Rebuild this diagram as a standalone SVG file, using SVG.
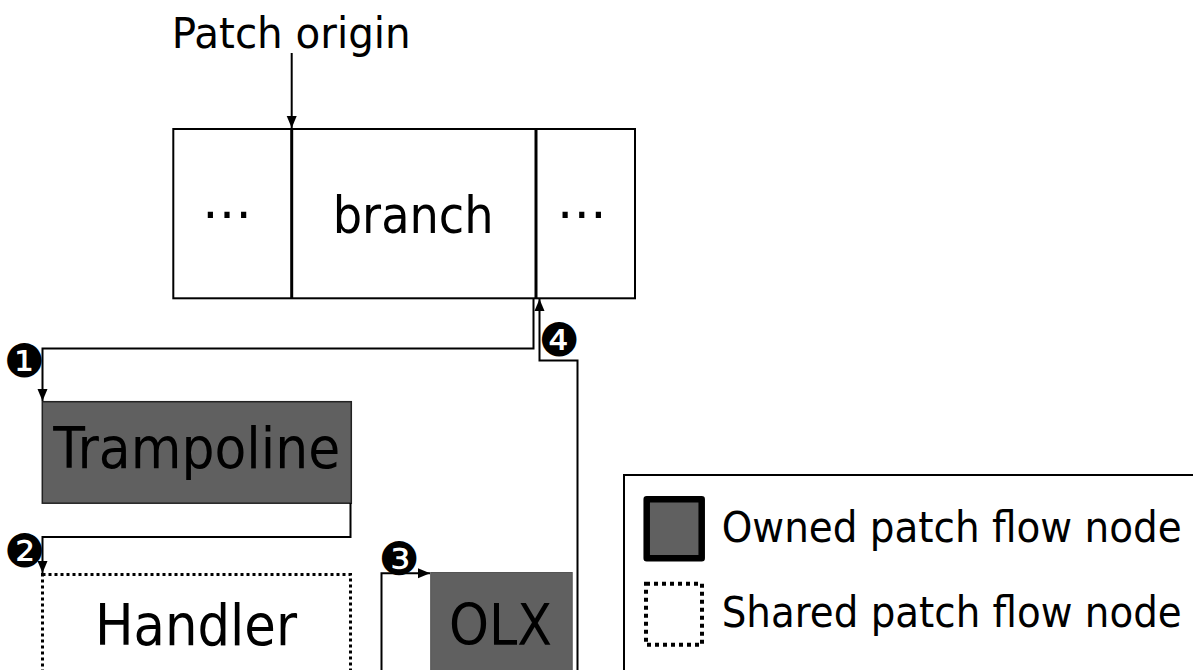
<svg xmlns="http://www.w3.org/2000/svg" width="1193" height="670" viewBox="0 0 1193 670">
<defs>
<style>
text{font-family:"DejaVu Sans","Liberation Sans",sans-serif;fill:#000}
.conn{fill:none;stroke:#000;stroke-width:2}
.owned{fill:#606060;stroke:#222;stroke-width:1.5}
.num{font-size:46px}
.dots{font-size:50px}
</style>
<marker id="ah" markerUnits="userSpaceOnUse" markerWidth="13" markerHeight="11" refX="12" refY="5" orient="auto" viewBox="0 0 13 10">
<path d="M0,0 L12,5 L0,10 z" fill="#000"/>
</marker>
</defs>
<rect width="1193" height="670" fill="#fff"/>

<g id="patch-origin">
<text x="171.7" y="48.3" font-size="42" textLength="239" lengthAdjust="spacingAndGlyphs">Patch origin</text>
</g>

<g id="instructions">
<rect x="173.3" y="129" width="461.7" height="169.3" fill="#fff" stroke="#000" stroke-width="2"/>
<line x1="291.7" y1="129" x2="291.7" y2="298.3" stroke="#000" stroke-width="3"/>
<line x1="536" y1="129" x2="536" y2="298.3" stroke="#000" stroke-width="3"/>
<text class="dots" x="227" y="218" text-anchor="middle">…</text>
<text x="332.7" y="233.3" font-size="51" textLength="161" lengthAdjust="spacingAndGlyphs">branch</text>
<text class="dots" x="581.7" y="218" text-anchor="middle">…</text>
</g>

<g id="trampoline">
<rect class="owned" x="42.3" y="401.7" width="309" height="101.5"/>
<text x="53.3" y="468.3" font-size="57" textLength="287" lengthAdjust="spacingAndGlyphs">Trampoline</text>
</g>

<g id="handler">
<rect x="42.5" y="574.5" width="308" height="200" fill="#fff" stroke="#000" stroke-width="3" stroke-dasharray="3 3"/>
<text x="95" y="645" font-size="57" textLength="202" lengthAdjust="spacingAndGlyphs">Handler</text>
</g>

<g id="olx">
<rect x="430.7" y="572.5" width="141.5" height="120" fill="#606060" stroke="#555" stroke-width="1"/>
<text x="449" y="645" font-size="57" textLength="103" lengthAdjust="spacingAndGlyphs">OLX</text>
</g>

<g id="connectors">
<line class="conn" x1="291.7" y1="53" x2="291.7" y2="128" marker-end="url(#ah)"/>
<path class="conn" d="M533.5 298 V348.5 H42.5 V401" marker-end="url(#ah)"/>
<path class="conn" d="M350.5 503 V537 H42.5 V573" marker-end="url(#ah)"/>
<path class="conn" d="M381.5 675 V573.3 H430" marker-end="url(#ah)"/>
<path class="conn" d="M577.5 675 V360.5 H539.5 V299" marker-end="url(#ah)"/>
</g>

<g id="step-labels">
<text class="num" x="24" y="377" text-anchor="middle">❶</text>
<text class="num" x="24.5" y="566.5" text-anchor="middle">❷</text>
<text class="num" x="399" y="574.5" text-anchor="middle">❸</text>
<text class="num" x="559" y="356" text-anchor="middle">❹</text>
</g>

<g id="legend">
<rect x="624" y="475" width="700" height="300" fill="#fff" stroke="#000" stroke-width="2"/>
<rect x="646.7" y="499.3" width="55" height="59" fill="#606060" stroke="#000" stroke-width="6.5" stroke-linejoin="round"/>
<text x="721.7" y="541.7" font-size="42" textLength="460" lengthAdjust="spacingAndGlyphs">Owned patch flow node</text>
<rect x="646" y="583.7" width="56" height="61" fill="none" stroke="#000" stroke-width="4" stroke-dasharray="4 4"/>
<text x="721.7" y="626.7" font-size="42" textLength="460" lengthAdjust="spacingAndGlyphs">Shared patch flow node</text>
</g>
</svg>
